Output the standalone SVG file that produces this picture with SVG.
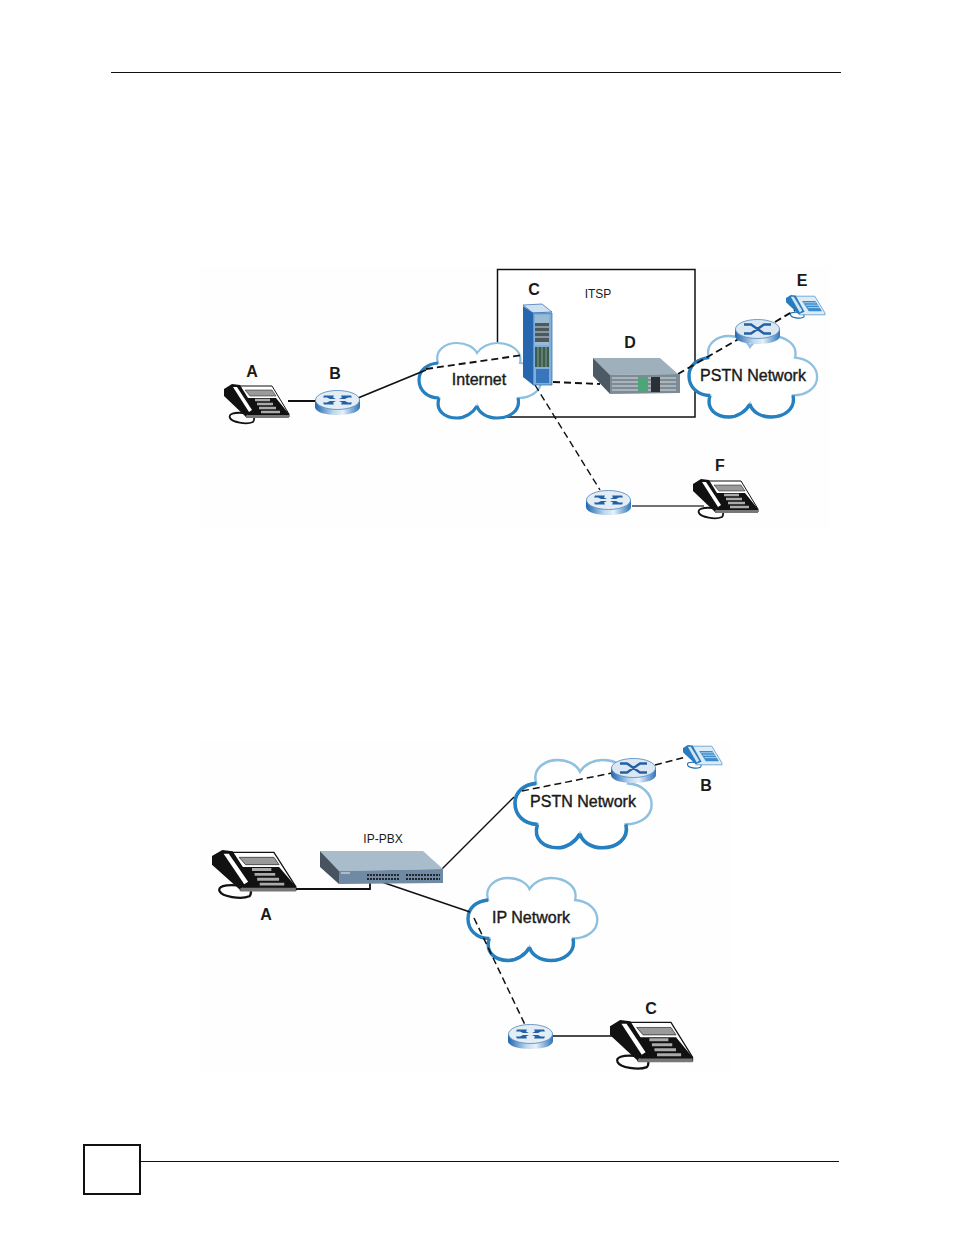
<svg xmlns="http://www.w3.org/2000/svg" xmlns:xlink="http://www.w3.org/1999/xlink" width="954" height="1235" viewBox="0 0 954 1235">
<style>
text{font-family:"Liberation Sans",Arial,sans-serif;fill:#1a1a1a}
.lab{font-size:16px;font-weight:bold;text-anchor:middle}
.net{font-size:16px;text-anchor:middle;stroke:#1a1a1a;stroke-width:.4}
.sm{font-size:12px;text-anchor:middle}
.s{fill:none;stroke:#111;stroke-width:1.8}
.d{fill:none;stroke:#111;stroke-width:1.9;stroke-dasharray:7 4}
.t{fill:none;stroke:#111;stroke-width:1.4}
.cl{fill:#fff;stroke:#8fc0e0;stroke-width:2.2}
.cd{fill:none;stroke:#2680c0;stroke-width:3.2}
</style>
<defs>
<linearGradient id="rg" x1="0" x2="1" y1="0" y2="0"><stop offset="0" stop-color="#1f66ae"/><stop offset=".4" stop-color="#bcd6ee"/><stop offset=".62" stop-color="#e6f0f8"/><stop offset="1" stop-color="#2f74b8"/></linearGradient>
<g id="cloud"><path class="cl" d="M19,20C15,7 27,0 38,0C47,0 55,4 58,10C62,4 70,0 78,0C92,0 104,8 101,20C114,21 122,29 122,38C122,48 112,55 99,55C102,68 90,75 78,75C68,75 60,70 58,63C54,70 46,75 38,75C26,75 16,68 20,55C8,55 0,47 0,37C0,27 8,21 19,20Z"/><path class="cd" d="M19,20C8,21 0,27 0,37C0,47 8,55 20,55M20,55C16,68 26,75 38,75C46,75 54,70 58,63M58,63C60,70 68,75 78,75C90,75 102,68 99,55"/></g>
<g id="router"><path d="M0,10V17C0,22 10,25 22.500,25C35,25 45,22 45,17V10Z" fill="url(#rg)"/><ellipse cx="22.500" cy="10" rx="22" ry="9.500" fill="#e3edf6" stroke="#5f90c0" stroke-width=".9"/><path d="M9,5.500h10l-1,2l3,1.500h-6l-3,-1.500h-4zM36,5.500h-10l1,2l-3,1.500h6l3,-1.500h4zM9,14.500h10l-1,-2l3,-1.500h-6l-3,1.500h-4zM36,14.500h-10l1,-2l-3,-1.500h6l3,1.500h4z" fill="#2560a4"/></g>
<g id="routerx"><path d="M0,10V17C0,22 10,25 22.500,25C35,25 45,22 45,17V10Z" fill="url(#rg)"/><ellipse cx="22.500" cy="10" rx="22" ry="9.500" fill="#dbe8f4" stroke="#5f90c0" stroke-width=".9"/><path d="M9,5.500H16L29,14.500H36M9,14.500H16L29,5.500H36" fill="none" stroke="#2560a4" stroke-width="2.400"/></g>
<g id="phone"><path d="M20,29C10,28 4,30 6,34C8,38 22,41 29,38C31,36 30,33 30,31" fill="none" stroke="#111" stroke-width="1.800"/><path d="M14,2H48L65,30V33H22Z" fill="#fff" stroke="#111" stroke-width="1"/><path d="M21,14H52L65,30V33H24Z" fill="#111"/><path d="M21,6H48L52,12H26Z" fill="#9a9a9a" stroke="#111" stroke-width=".5"/><path d="M31,16H46M33,20H49M35,24H52M37,28H56" stroke="#aaa" stroke-width="2.400"/><path d="M22,31H65V34H22Z" fill="#777"/><path d="M0,5L8,0L16,1L32,27L21,32L0,12Z" fill="#111"/><path d="M9,3H13L28,26L25,28Z" fill="#fff"/></g>
<g id="phoneb"><path d="M20,29C10,28 6,30 8,34C10,38 22,40 29,37C31,36 30,33 30,31" fill="none" stroke="#1b6cb3" stroke-width="1.800"/><path d="M14,2H48L65,30V33H22Z" fill="#dcecf7" stroke="#2a7bbd" stroke-width="1"/><path d="M27,10H49L60,27H38Z" fill="#3d8bca"/><path d="M30,13H50M33,17H53M36,21H56" stroke="#cfe4f4" stroke-width="1.300"/><path d="M0,5L8,0L16,1L31,28L21,32L0,12Z" fill="#2a7bbd"/><path d="M8,3H13L27,26L23,29Z" fill="#cfe4f4"/></g>
</defs>
<rect width="954" height="1235" fill="#fff"/>
<g id="page"><path d="M111,72.500H841M140,1161.500H839" stroke="#111" fill="none"/><rect x="84" y="1145" width="56" height="49" fill="#fff" stroke="#111" stroke-width="2"/></g>
<rect x="200" y="266" width="630" height="262" fill="#fefefe"/>
<rect x="200" y="740" width="532" height="333" fill="#fefefe"/>
<g id="itsp-box"><rect x="497.500" y="269.500" width="197.500" height="147.500" fill="#fff" stroke="#111" stroke-width="1.500"/><text class="sm" x="598" y="298">ITSP</text></g>
<g id="internet"><use xlink:href="#cloud" transform="translate(419,343)"/><text class="net" x="479" y="385">Internet</text></g>
<g id="pstn1"><use xlink:href="#cloud" transform="translate(689,336) scale(1.050,1.080)"/><text class="net" x="753" y="381">PSTN Network</text></g>
<g id="pstn2"><use xlink:href="#cloud" transform="translate(515,760) scale(1.120,1.170)"/><text class="net" x="583" y="807">PSTN Network</text></g>
<g id="ipnet"><use xlink:href="#cloud" transform="translate(468,878) scale(1.060,1.100)"/><text class="net" x="531" y="923">IP Network</text></g>
<g id="connectors">
<path class="s" d="M288,401H316M358,398L426,370"/>
<path class="d" d="M426,369L523,355M553,382L600,384M678,374L742,337M775,322L797,309"/>
<path class="t" style="stroke-dasharray:7 4" d="M535,385L600,490"/>
<path d="M632,506H704" fill="none" stroke="#444" stroke-width="1.500"/>
<path class="s" d="M296,889H370V878"/>
<path class="t" d="M440,871L514,797M370,878L470,912M552,1036H613"/>
<path class="d" style="stroke-width:1.500" d="M522,791L612,773M655,765L686,757M474,918L528,1031"/>
</g>
<g id="nodeA1"><use xlink:href="#phone" transform="translate(224,384)"/><text class="lab" x="252" y="377">A</text></g>
<g id="nodeB1"><use xlink:href="#router" transform="translate(315,390)"/><text class="lab" x="335" y="379">B</text></g>
<g id="nodeC1">
<path d="M523,305L542,304L552,312L533,313Z" fill="#cfe0f0" stroke="#2a68aa" stroke-width=".7"/>
<path d="M523,306L533,313V385L523,377Z" fill="#2566ae"/>
<path d="M533,313H552V385H533Z" fill="#7fb0dc" stroke="#2a68aa" stroke-width=".7"/>
<path d="M535,315H549V345H535Z" fill="#9dbad4"/>
<path d="M535,323H549V342H535Z" fill="#4a5a60"/><path d="M535,327H549M535,332H549M535,337H549" stroke="#c8d4d8" stroke-width="1"/>
<path d="M535,347H549V367H535Z" fill="#3c5c4e"/><path d="M538,347V367M542,347V367M546,347V367" stroke="#a8bcb0" stroke-width=".7"/>
<path d="M536,369H549V383H536Z" fill="#3a76bc"/>
<text class="lab" x="534" y="295">C</text></g>
<g id="nodeD1">
<path d="M593,358H660L678,374L610,375Z" fill="#9fb0bd"/>
<path d="M593,358L610,375V394L593,376Z" fill="#4c5a66"/>
<path d="M610,375L680,374V393L610,394Z" fill="#7d8b96"/>
<path d="M612,378H676M612,382H676M612,386H676M612,390H676" stroke="#e2e6e8" stroke-width=".9"/>
<path d="M638,377H648V392H638Z" fill="#4fa578"/><path d="M651,377H660V392H651Z" fill="#2c3034"/>
<text class="lab" x="630" y="348">D</text></g>
<g id="nodeE1"><use xlink:href="#phoneb" transform="translate(786,295) scale(.6)"/><text class="lab" x="802" y="286">E</text></g>
<g id="routerE1"><use xlink:href="#routerx" transform="translate(735,319)"/></g>
<g id="routerF1"><use xlink:href="#router" transform="translate(586,490)"/></g>
<g id="nodeF1"><use xlink:href="#phone" transform="translate(693,479)"/><text class="lab" x="720" y="471">F</text></g>
<g id="nodeA2"><use xlink:href="#phone" transform="translate(212,850) scale(1.290,1.220)"/><text class="lab" x="266" y="920">A</text></g>
<g id="ip-pbx">
<path d="M320,851H423L443,869L339,871Z" fill="#a9bccb"/>
<path d="M320,851L339,871V884L320,867Z" fill="#47545f"/>
<path d="M339,871L443,869V883L339,884Z" fill="#6f8aa2"/>
<path d="M341,873H350" stroke="#e8eef2"/>
<path d="M367,875H399M406,875H440M367,879H399M406,879H440" stroke="#20262c" stroke-width="2" stroke-dasharray="2 1"/>
<text class="sm" x="383" y="843">IP-PBX</text></g>
<g id="routerB2"><use xlink:href="#routerx" transform="translate(611,758)"/></g>
<g id="nodeB2"><use xlink:href="#phoneb" transform="translate(683,745) scale(.6)"/><text class="lab" x="706" y="791">B</text></g>
<g id="routerC2"><use xlink:href="#router" transform="translate(508,1024)"/></g>
<g id="nodeC2"><use xlink:href="#phone" transform="translate(610,1020) scale(1.270,1.240)"/><text class="lab" x="651" y="1014">C</text></g>
</svg>
